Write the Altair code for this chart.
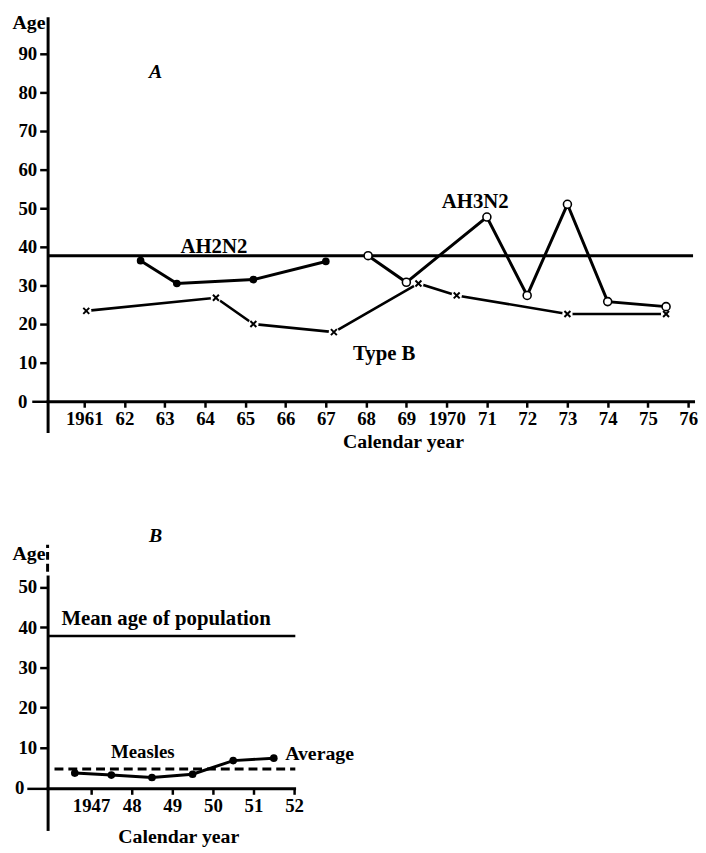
import json
import altair as alt
import pandas as pd

FONT = "Liberation Serif"

# ---------------- Panel A data ----------------
a_tick_years = list(range(1961, 1977))
a_tick_labels = ["1961", "62", "63", "64", "65", "66", "67", "68", "69",
                 "1970", "71", "72", "73", "74", "75", "76"]
a_age_ticks = [0, 10, 20, 30, 40, 50, 60, 70, 80, 90]

ah2n2_year = [1962.4, 1963.3, 1965.2, 1967.0]
ah2n2_age = [36.4, 30.5, 31.5, 36.2]

ah3n2_year = [1968.05, 1969.0, 1971.0, 1972.0, 1973.0, 1974.0, 1975.45]
ah3n2_age = [37.7, 30.8, 47.7, 27.4, 51.0, 25.8, 24.5]

typeb_year = [1961.05, 1964.27, 1965.2, 1967.2, 1969.3, 1970.25, 1973.0, 1975.45]
typeb_age = [23.4, 26.8, 20.0, 17.9, 30.5, 27.4, 22.6, 22.6]

a_mean_age = 37.7
a_x_domain = [1960.09, 1976.12]
a_y_domain = [-7.7, 99.2]

a_label_text = ["AH2N2", "AH3N2", "Type B"]
a_label_year = [1964.22, 1970.71, 1968.45]
a_label_age = [38.5, 50.0, 10.8]
a_letter = ["A"]
a_letter_year = [1962.77]
a_letter_age = [83.8]

# ---------------- Panel B data ----------------
b_tick_years = [1947, 1948, 1949, 1950, 1951, 1952]
b_tick_labels = ["1947", "48", "49", "50", "51", "52"]
b_age_ticks = [0, 10, 20, 30, 40, 50]

measles_year = [1946.6, 1947.5, 1948.5, 1949.5, 1950.5, 1951.5]
measles_age = [3.7, 3.2, 2.6, 3.4, 6.8, 7.4]
measles_average = 4.7
b_mean_age = 37.8
b_x_domain = [1945.93, 1952.0]
b_y_domain = [-10.2, 52.6]
b_axis_break = [53.8, 60.5]

b_label_text = ["Mean age of population", "Measles", "Average"]
b_label_year = [1946.27, 1947.49, 1951.78]
b_label_age = [40.5, 7.5, 7.0]
b_label_size = [21, 19, 20]
b_letter = ["B"]
b_letter_year = [1948.59]
b_letter_age = [61.2]

# ---------------- helpers ----------------

def x_axis(values, labels, title_x, title_y, offset):
    expr = f"{json.dumps(labels)}[indexof({json.dumps(values)}, datum.value)]"
    return alt.Axis(values=values, labelExpr=expr, title="Calendar year",
                    titleX=title_x, titleY=title_y, titleAlign="center",
                    titleBaseline="alphabetic", titleAngle=0, offset=offset,
                    tickSize=6, labelPadding=2, labelFlush=False)


def y_axis(values, title_y, zero_tick, zero_pad):
    return alt.Axis(values=values, title="Age", titleAngle=0, titleAlign="left",
                    titleBaseline="alphabetic", titleX=-36, titleY=title_y,
                    tickSize=alt.condition("datum.value == 0", alt.value(zero_tick), alt.value(8)),
                    labelPadding=alt.condition("datum.value == 0", alt.value(zero_pad), alt.value(3)))


def X(field, scale, axis):
    return alt.X(field, type="quantitative", scale=scale, axis=axis)


def Y(field, scale, axis):
    return alt.Y(field, type="quantitative", scale=scale, axis=axis)


# ---------------- Panel A ----------------
ax_a = x_axis(a_tick_years, a_tick_labels, 359, 47, -30)
ay_a = y_axis(a_age_ticks, 10, 16, 5)
xs_a = alt.Scale(domain=a_x_domain, nice=False, zero=False)
ys_a = alt.Scale(domain=a_y_domain, nice=False, zero=False)

df_ah2 = pd.DataFrame({"year": ah2n2_year, "age": ah2n2_age})
df_ah3 = pd.DataFrame({"year": ah3n2_year, "age": ah3n2_age})
df_b = pd.DataFrame({"year": typeb_year, "age": typeb_age})
df_mean_a = pd.DataFrame({"year": [a_x_domain[0]], "year2": [a_x_domain[1]], "age": [a_mean_age]})
df_lab_a = pd.DataFrame({"year": a_label_year, "age": a_label_age, "text": a_label_text})
df_let_a = pd.DataFrame({"year": a_letter_year, "age": a_letter_age, "text": a_letter})

enc_a = dict(x=X("year", xs_a, ax_a), y=Y("age", ys_a, ay_a))

mean_a = alt.Chart(df_mean_a).mark_rule(color="black", strokeWidth=3).encode(
    x=X("year", xs_a, ax_a), x2="year2", y=Y("age", ys_a, ay_a))

line_ah2 = alt.Chart(df_ah2).mark_line(color="black", strokeWidth=3).encode(**enc_a)
pts_ah2 = alt.Chart(df_ah2).mark_circle(color="black", opacity=1, size=60).encode(**enc_a)

line_ah3 = alt.Chart(df_ah3).mark_line(color="black", strokeWidth=3).encode(**enc_a)
pts_ah3 = alt.Chart(df_ah3).mark_point(shape="circle", filled=False, fill="white",
                                       fillOpacity=1, stroke="black", strokeWidth=1.6,
                                       opacity=1, size=65).encode(**enc_a)

line_b = alt.Chart(df_b).mark_line(color="black", strokeWidth=2.6).encode(**enc_a)
bg_b = alt.Chart(df_b).mark_circle(color="white", opacity=1, size=110).encode(**enc_a)
pts_b = alt.Chart(df_b).mark_point(shape="M-1,-1L1,1M1,-1L-1,1", filled=False,
                                   stroke="black", strokeWidth=2, opacity=1,
                                   size=36).encode(**enc_a)

labels_a = alt.Chart(df_lab_a).mark_text(font=FONT, fontSize=21, fontWeight="bold",
                                         align="center", baseline="alphabetic",
                                         color="black").encode(
    x=X("year", xs_a, ax_a), y=Y("age", ys_a, ay_a), text="text:N")
letter_a = alt.Chart(df_let_a).mark_text(font=FONT, fontSize=20, fontWeight="bold",
                                         fontStyle="italic", align="center",
                                         baseline="alphabetic", color="black").encode(
    x=X("year", xs_a, ax_a), y=Y("age", ys_a, ay_a), text="text:N")

chart_a = alt.layer(mean_a, line_ah2, line_ah3, line_b, bg_b, pts_ah2, pts_ah3, pts_b,
                    labels_a, letter_a).properties(width=652, height=417)

# ---------------- Panel B ----------------
ax_b = x_axis(b_tick_years, b_tick_labels, 132, 55, -41)
ay_b = y_axis(b_age_ticks, -17, 21, 3)
xs_b = alt.Scale(domain=b_x_domain, nice=False, zero=False)
ys_b = alt.Scale(domain=b_y_domain, nice=False, zero=False)

df_measles = pd.DataFrame({"year": measles_year, "age": measles_age})
df_avg = pd.DataFrame({"year": [1946.1], "year2": [1952.03], "age": [measles_average]})
df_mean_b = pd.DataFrame({"year": [b_x_domain[0]], "year2": [1952.03], "age": [b_mean_age]})
df_break = pd.DataFrame({"year": [b_x_domain[0]], "age": [b_axis_break[0]], "age2": [b_axis_break[1]]})
df_lab_b = pd.DataFrame({"year": b_label_year, "age": b_label_age, "text": b_label_text,
                         "size": b_label_size})
df_let_b = pd.DataFrame({"year": b_letter_year, "age": b_letter_age, "text": b_letter})

enc_b = dict(x=X("year", xs_b, ax_b), y=Y("age", ys_b, ay_b))

mean_b = alt.Chart(df_mean_b).mark_rule(color="black", strokeWidth=2.5).encode(
    x=X("year", xs_b, ax_b), x2="year2", y=Y("age", ys_b, ay_b))
avg_b = alt.Chart(df_avg).mark_rule(color="black", strokeWidth=3, strokeDash=[9, 5]).encode(
    x=X("year", xs_b, ax_b), x2="year2", y=Y("age", ys_b, ay_b))
break_b = alt.Chart(df_break).mark_rule(color="black", strokeWidth=3, strokeDash=[8, 4]).encode(
    x=X("year", xs_b, ax_b), y=Y("age", ys_b, ay_b), y2="age2")
line_m = alt.Chart(df_measles).mark_line(color="black", strokeWidth=3).encode(**enc_b)
pts_m = alt.Chart(df_measles).mark_circle(color="black", opacity=1, size=60).encode(**enc_b)
labels_b = alt.Chart(df_lab_b).mark_text(font=FONT, fontWeight="bold",
                                         align="left", baseline="alphabetic",
                                         color="black").encode(
    x=X("year", xs_b, ax_b), y=Y("age", ys_b, ay_b), text="text:N",
    size=alt.Size("size:Q", scale=None, legend=None))
letter_b = alt.Chart(df_let_b).mark_text(font=FONT, fontSize=20, fontWeight="bold",
                                         fontStyle="italic", align="center",
                                         baseline="alphabetic", color="black").encode(
    x=X("year", xs_b, ax_b), y=Y("age", ys_b, ay_b), text="text:N")

chart_b = alt.layer(mean_b, avg_b, break_b, line_m, pts_m, labels_b, letter_b).properties(
    width=249, height=255)

chart = alt.vconcat(chart_a, chart_b, spacing=147, bounds="flush").properties(
    padding={"left": 4, "top": 0, "right": 0, "bottom": 0}
).configure_view(stroke=None).configure_axis(
    grid=False, domainColor="black", domainWidth=3, tickColor="black", tickWidth=2.5,
    labelFont=FONT, labelFontSize=19, labelFontWeight="bold", labelColor="black",
    titleFont=FONT, titleFontSize=20, titleFontWeight="bold", titleColor="black",
    domainCap="square"
)

chart.save("out.html", embed_options={"renderer": "svg", "actions": False})
